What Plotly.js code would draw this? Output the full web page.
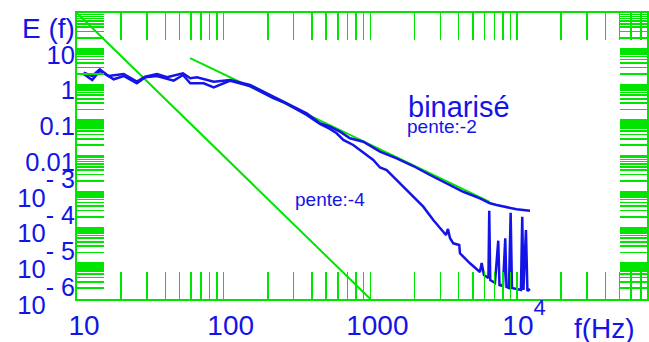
<!DOCTYPE html>
<html><head><meta charset="utf-8">
<script src="https://cdn.plot.ly/plotly-3.0.1.min.js"></script>
<style>html,body{margin:0;padding:0;background:#fff;}#chart{width:649px;height:342px;}</style>
</head><body><div id="chart"></div>
<script>
// Spectrum "binarisé": upper curve (follows slope -2, flattens at high f)
const freqA = [11.1,12.7,14.3,16.4,20.8,25.6,29.2,35.1,41.1,52.8,59.2,65.8,85.5,111,151,177,218,255,315,368,453,530,621,726,894,1163,1511,1961,2549,3312,4298,5587,6537,7261,8495,9938,12250];
const specA = [2.14,1.73,2.66,1.73,1.97,1.20,1.65,1.97,1.59,2.06,1.49,1.59,1.20,1.34,0.97,0.70,0.456,0.330,0.216,0.156,0.0822,0.0661,0.0479,0.0313,0.0251,0.0132,8.63e-3,5.25e-3,2.94e-3,1.72e-3,1.0e-3,6.56e-4,4.75e-4,4.26e-4,3.67e-4,3.23e-4,2.95e-4];
// lower curve (steeper decay with spikes at high f)
const freqB = [11.1,12.7,14.3,17.8,20.8,25.6,29.2,35.1,45.6,52.8,59.2,73.1,85.5,111,151,177,218,255,315,368,453,530,589,654,764,849,944,1047,1163,1291,1432,1591,1961,2295,2685,3062,3276,3381,3487,3674,4036,4082,4775,5587,5738,5948,6383,6464,6566,7071,7446,7589,8015,8312,8470,8807,9046,9232,9984,10630,10850,11060,11500,11770,12250];
const specB = [1.97,1.34,2.43,1.40,1.73,1.08,1.59,1.73,1.28,1.84,1.08,1.08,0.835,1.28,0.908,0.658,0.419,0.324,0.200,0.140,0.0785,0.0569,0.0432,0.0281,0.0203,0.0147,0.0107,7.73e-3,4.77e-3,4.06e-3,2.64e-3,1.72e-3,7.27e-4,3.82e-4,1.62e-4,8.51e-5,6.17e-5,9.08e-5,5.08e-5,3.61e-5,3.24e-5,1.90e-5,9.97e-6,5.69e-6,1.02e-5,4.69e-6,3.87e-6,2.95e-4,3.40e-6,2.81e-6,4.27e-5,2.47e-6,2.31e-6,4.99e-5,2.17e-6,2.03e-6,2.59e-4,2.03e-6,1.91e-6,1.79e-6,2.00e-4,1.79e-6,8.5e-5,1.67e-6,1.91e-6];
// reference slopes
const slope2F = [59, 6500];
const slope2E = [5.5, 5.2e-4];
const slope4F = [10, 1000];
const slope4E = [100, 1e-6];

const xMajor = [10, 100, 1000, 10000];
const xMajorText = ['10', '100', '1000', '10<sup><sup><span style="font-size:22px">4</span></sup></sup>'];
const yMajor = [10, 1, 0.1, 0.01, 1e-3, 1e-4, 1e-5, 1e-6];
const yMajorText = ['10', '1', '0.1', '0.01',
  '10<sup><sup><span style="font-size:25px">- 3</span></sup></sup>',
  '10<sup><sup><span style="font-size:25px">- 4</span></sup></sup>',
  '10<sup><sup><span style="font-size:25px">- 5</span></sup></sup>',
  '10<sup><sup><span style="font-size:25px">- 6</span></sup></sup>'];
const mantissas = [1,2,3,4,5,6,7,8,9];

const GREEN = '#00e400';
const BLUE = '#1414e6';

function minorTicks(decades, majors, maxV) {
  const vals = [];
  decades.forEach(d => mantissas.forEach(m => {
    const v = +(m * d).toPrecision(3);
    if (v > maxV * 1.0001) return;
    if (majors.some(M => Math.abs(M - v) / M < 1e-6)) return;
    vals.push(v);
  }));
  return vals;
}
const xMinor = minorTicks([10, 100, 1000, 10000], xMajor, 76000);
const yMinor = minorTicks([1e-6, 1e-5, 1e-4, 1e-3, 1e-2, 0.1, 1, 10, 100], yMajor, 100);

const traces = [
  {x: slope4F, y: slope4E, mode: 'lines', line: {color: GREEN, width: 2}},
  {x: slope2F, y: slope2E, mode: 'lines', line: {color: GREEN, width: 2}},
  {x: freqB, y: specB, mode: 'lines', line: {color: BLUE, width: 2.5}},
  {x: freqA, y: specA, mode: 'lines', line: {color: BLUE, width: 2.5}}
];

const FONT = 'Liberation Sans, Arial, Helvetica, sans-serif';
const axisCommon = {
  type: 'log', ticks: 'inside', ticklen: 27, tickwidth: 1.6, tickcolor: GREEN,
  showline: true, linecolor: GREEN, linewidth: 2, mirror: 'allticks',
  showgrid: false, zeroline: false
};

const layout = {
  width: 649, height: 342,
  margin: {l: 77, r: 2, t: 13, b: 43},
  paper_bgcolor: '#fff', plot_bgcolor: '#fff',
  showlegend: false,
  xaxis: Object.assign({}, axisCommon, {
    range: [1, 4.886], tickmode: 'array', tickvals: xMajor, ticktext: xMajorText,
    minor: {tickmode: 'array', tickvals: xMinor, ticks: 'inside', ticklen: 27, tickwidth: 1.6, tickcolor: GREEN, showgrid: false},
    tickfont: {family: FONT, size: 28, color: BLUE}, ticklabelshift: 7
  }),
  yaxis: Object.assign({}, axisCommon, {
    range: [-6, 2], tickmode: 'array', tickvals: yMajor, ticktext: yMajorText,
    minor: {tickmode: 'array', tickvals: yMinor, ticks: 'inside', ticklen: 27, tickwidth: 1.6, tickcolor: GREEN, showgrid: false},
    tickfont: {family: FONT, size: 25.5, color: BLUE}, ticklabelshift: 6, ticklabelstandoff: -5
  }),
  annotations: [
    {text: 'E (f)', xref: 'paper', yref: 'paper', x: -0.05, y: 0.945, xanchor: 'center', yanchor: 'middle', showarrow: false, font: {family: FONT, size: 28, color: BLUE}},
    {text: 'f(Hz)', xref: 'paper', yref: 'paper', x: 0.925, y: -0.1014, xanchor: 'center', yanchor: 'middle', showarrow: false, font: {family: FONT, size: 28, color: BLUE}},
    {text: 'binarisé', xref: 'paper', yref: 'paper', x: 0.6693, y: 0.6703, xanchor: 'center', yanchor: 'middle', showarrow: false, font: {family: FONT, size: 29, color: BLUE}},
    {text: 'pente:-2', xref: 'paper', yref: 'paper', x: 0.6412, y: 0.6028, xanchor: 'center', yanchor: 'middle', showarrow: false, font: {family: FONT, size: 19, color: BLUE}},
    {text: 'pente:-4', xref: 'paper', yref: 'paper', x: 0.443, y: 0.3486, xanchor: 'center', yanchor: 'middle', showarrow: false, font: {family: FONT, size: 19, color: BLUE}}
  ]
};

Plotly.newPlot('chart', traces, layout, {displayModeBar: false, staticPlot: true});
</script>
</body></html>
